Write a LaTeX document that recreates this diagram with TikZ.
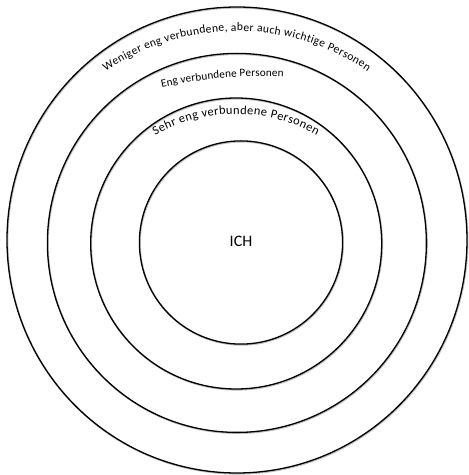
\documentclass[tikz,border=0pt]{standalone}
\usepackage{fontspec}
\setmainfont{Carlito}
\usetikzlibrary{decorations.text}
\tikzset{
  ring/.style={draw=black, line width=1.3pt},
  ringshadow/.style={draw=black!25, line width=1.6pt},
  arctext/.style={decorate, decoration={text along path, text align={fit to path}}}
}
\begin{document}
\begin{tikzpicture}[x=1pt,y=1pt]
\useasboundingbox (0,0) rectangle (469,475);
% shadows
\draw[ringshadow] (237.6,234.2) ellipse[x radius=230, y radius=233];
\draw[ringshadow] (237.5,231.3) circle[radius=189.5];
\draw[ringshadow] (236.8,230.7) circle[radius=145.5];
\draw[ringshadow] (241.6,231.7) circle[radius=101.6];
% rings
\draw[ring] (237,235) ellipse[x radius=230, y radius=233];
\draw[ring] (236.9,232.1) circle[radius=189.5];
\draw[ring] (236.2,231.5) circle[radius=145.5];
\draw[ring] (241,232.5) circle[radius=101.6];
% centre label
\node[font=\fontsize{16}{19}\selectfont, inner sep=0pt] (ich) at (241,234) {ICH};
% curved labels
\coordinate (c1) at (237,213);
\coordinate (c2) at (260,-51.5);
\coordinate (c3) at (236,197);
\path[arctext, decoration={text={|\fontsize{11.6}{14}\selectfont|Weniger eng verbundene, aber auch wichtige Personen}}]
  (c1) ++(124.6:231) arc[start angle=124.6, end angle=55.6, radius=231];
\path[arctext, decoration={text={|\fontsize{11.2}{14}\selectfont|Eng verbundene Personen}}]
  (c2) ++(102.6:450) arc[start angle=102.6, end angle=87.0, radius=450];
\path[arctext, decoration={text={|\fontsize{12.4}{15}\selectfont|Sehr eng verbundene Personen}}]
  (c3) ++(119.5:164) arc[start angle=119.5, end angle=60.5, radius=164];
\end{tikzpicture}
\end{document}
